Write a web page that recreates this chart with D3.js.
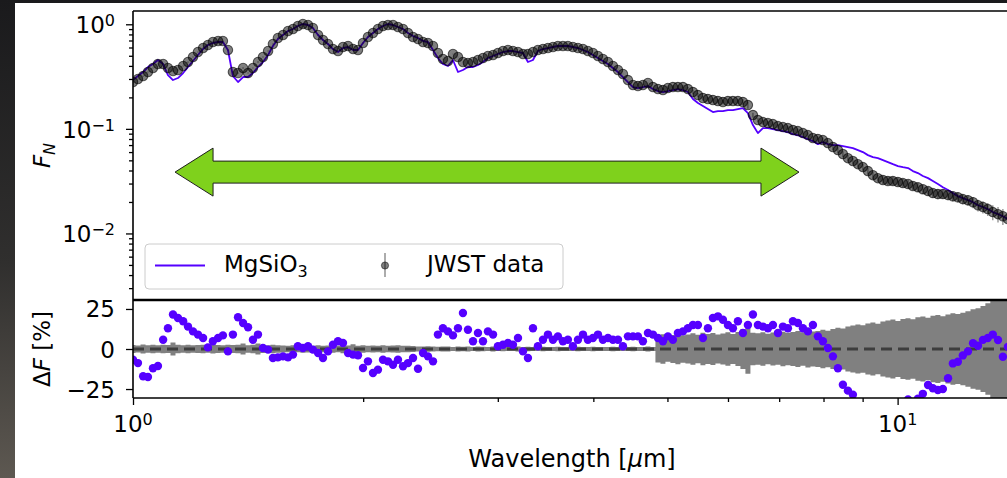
<!DOCTYPE html>
<html><head><meta charset="utf-8">
<script src="https://cdn.jsdelivr.net/npm/d3@7"></script>
<style>body{margin:0;background:#fff;} svg{display:block;} text{font-family:"DejaVu Sans",sans-serif;fill:#000;}</style>
</head><body><svg id="c" width="1007" height="478"></svg>
<script>
// ---------------- data ----------------
const wavelength = [1.000,1.015,1.031,1.046,1.062,1.078,1.095,1.111,1.128,1.145,
1.163,1.180,1.198,1.216,1.235,1.253,1.272,1.292,1.311,1.331,
1.351,1.372,1.393,1.414,1.435,1.457,1.479,1.502,1.524,1.547,
1.571,1.595,1.619,1.643,1.668,1.694,1.719,1.746,1.772,1.799,
1.826,1.854,1.882,1.911,1.940,1.969,1.999,2.029,2.060,2.091,
2.123,2.155,2.188,2.221,2.255,2.289,2.324,2.359,2.395,2.431,
2.468,2.505,2.543,2.582,2.621,2.661,2.701,2.742,2.784,2.826,
2.869,2.912,2.957,3.001,3.047,3.093,3.140,3.188,3.236,3.285,
3.335,3.385,3.437,3.489,3.542,3.595,3.650,3.705,3.761,3.819,
3.877,3.935,3.995,4.056,4.117,4.180,4.243,4.308,4.373,4.439,
4.507,4.575,4.644,4.715,4.786,4.859,4.933,5.007,5.083,5.160,
5.239,5.318,5.399,5.481,5.564,5.648,5.734,5.821,5.909,5.999,
6.090,6.182,6.276,6.371,6.468,6.566,6.666,6.767,6.870,6.974,
7.080,7.187,7.296,7.406,7.519,7.633,7.749,7.866,7.985,8.106,
8.230,8.354,8.481,8.610,8.740,8.873,9.007,9.144,9.283,9.423,
9.567,9.712,9.859,10.01,10.16,10.32,10.47,10.63,10.79,10.96,
11.12,11.29,11.46,11.64,11.81,11.99,12.17,12.36,12.55,12.74,
12.93,13.12,13.32,13.53,13.73,13.94];

const fluxData = [0.2805,0.2997,0.3201,0.3496,0.3818,0.4170,0.4170,0.3818,0.3574,0.3654,
0.3990,0.4358,0.4865,0.5432,0.5932,0.6338,0.6771,0.6922,0.6922,0.5677,
0.3496,0.3420,0.3818,0.3420,0.3818,0.4358,0.4865,0.5553,0.6479,0.7395,
0.7900,0.8628,0.9016,0.9633,1.0066,0.9847,0.9217,0.7900,0.7076,0.6479,
0.5803,0.5553,0.6065,0.6200,0.5803,0.5677,0.6623,0.7559,0.8256,0.9016,
0.9633,0.9847,0.9847,0.9423,0.9016,0.8256,0.7559,0.7234,0.6771,0.6623,
0.6200,0.5314,0.4655,0.4455,0.5198,0.4865,0.4358,0.4263,0.4358,0.4554,
0.4759,0.4973,0.5085,0.5314,0.5553,0.5677,0.5553,0.5432,0.5198,0.5198,
0.5432,0.5677,0.5803,0.5932,0.6065,0.6200,0.6200,0.6200,0.6065,0.5932,
0.5803,0.5553,0.5314,0.4973,0.4655,0.4358,0.3990,0.3654,0.3346,0.2931,
0.2626,0.2568,0.2626,0.2744,0.2512,0.2404,0.2352,0.2458,0.2512,0.2512,
0.2512,0.2404,0.2250,0.2106,0.1971,0.1928,0.1886,0.1845,0.1805,0.1845,
0.1845,0.1845,0.1805,0.1689,0.1355,0.1214,0.1161,0.1136,0.1111,0.1063,
0.1040,0.1017,0.0974,0.0952,0.0911,0.0872,0.0816,0.0799,0.0781,0.0731,
0.0670,0.0627,0.0574,0.0525,0.0492,0.0460,0.0431,0.0395,0.0361,0.0338,
0.0324,0.0317,0.0317,0.0310,0.0303,0.0297,0.0284,0.0277,0.0265,0.0254,
0.0243,0.0238,0.0238,0.0233,0.0227,0.0222,0.0213,0.0208,0.0199,0.0186,
0.0179,0.0171,0.0160,0.0153,0.0146,0.0137];

const fluxModel = [0.2931,0.3201,0.3496,0.3903,0.4170,0.4554,0.4170,0.3273,0.2931,0.3063,
0.3420,0.3903,0.4455,0.5085,0.5803,0.6338,0.6623,0.6771,0.6771,0.5677,
0.3201,0.2805,0.3132,0.3132,0.3420,0.3903,0.4358,0.5085,0.6200,0.7234,
0.7900,0.8628,0.9016,0.9633,1.0066,0.9847,0.9217,0.7900,0.7076,0.6479,
0.5803,0.5432,0.5932,0.6065,0.5677,0.5677,0.6623,0.7559,0.8256,0.9016,
0.9633,1.0066,0.9847,0.9423,0.9016,0.8256,0.7728,0.7395,0.6922,0.6771,
0.5677,0.4759,0.4170,0.3990,0.4554,0.3496,0.3654,0.3903,0.3903,0.4079,
0.4358,0.4759,0.4973,0.5198,0.5432,0.5553,0.5553,0.5432,0.5314,0.4358,
0.4554,0.5553,0.5803,0.5932,0.6065,0.6200,0.6200,0.6200,0.6065,0.5932,
0.5677,0.5432,0.5085,0.4759,0.4455,0.4170,0.3818,0.3496,0.3132,0.2805,
0.2512,0.2458,0.2512,0.2568,0.2404,0.2300,0.2250,0.2300,0.2352,0.2404,
0.2352,0.2250,0.1928,0.1766,0.1652,0.1547,0.1448,0.1480,0.1480,0.1513,
0.1513,0.1547,0.1581,0.1416,0.1087,0.0911,0.1017,0.1017,0.0995,0.0974,
0.0952,0.0932,0.0891,0.0872,0.0835,0.0799,0.0764,0.0715,0.0747,0.0715,
0.0700,0.0700,0.0684,0.0670,0.0655,0.0627,0.0600,0.0561,0.0537,0.0525,
0.0503,0.0481,0.0460,0.0441,0.0431,0.0422,0.0395,0.0378,0.0354,0.0338,
0.0317,0.0297,0.0277,0.0260,0.0243,0.0227,0.0218,0.0208,0.0199,0.0186,
0.0179,0.0171,0.0160,0.0153,0.0146,0.0137];

const residualPct = [-6.7,-8.8,-17,-17.5,-12,-10.6,5.8,13,21.5,19.4,
17.3,14,11,9,6.9,1,4.8,6.9,8.5,-1.5,
9,19.8,16.2,13.6,5.8,9,0.6,-0.4,-5.6,-5.2,
-4.6,-5.2,-3.5,1.7,0.6,1.7,-0.4,-2.5,-5.6,-1.5,
2.7,4.8,3.8,-2.5,-3.5,-3.9,-11.9,-7.7,-15,-12.9,
-6.7,-7.7,-9.8,-6.7,-10.8,-8.8,-5.6,-12.3,-2.5,-4.6,
-7.7,9,13,11,8.5,13,22.5,12,4.8,10,
4.8,11,9,1.7,2.7,3.8,2.7,6.9,-1.5,-5.6,
13,1.7,5.8,9,5.8,7.9,4.8,5.8,1.7,5.8,
9,5.8,6.9,9,5.8,6.9,5.8,5.8,1.7,7.9,
7.9,7.9,4.8,10,9,6.9,4.8,7.9,5.8,10,
11,13,15,15,6.9,13,19.4,20.4,18.3,15,
13,17.3,10,15,21.5,15,14,13,15,10,
14,13,17.3,16.2,13,11,15,7.9,4.8,0.6,
-4.6,-12,-22.3,-26,-28.5,-40,-48,-55,-60,-62,
-60,-55,-50,-45,-38,-31.5,-33,-31,-28,-22.5,
-24.5,-25.6,-25,-18.3,-9,-8,-4,-1.5,3.6,2,
5.7,6.9,9,5.6,-4.8,1.4];

// relative uncertainty of the data, in percent (band in lower panel = 2 sigma)
const errorPct = [2.5,2.2,2.8,2.4,2.6,2.3,2.7,2.5,4.0,2.6,
2.4,2.7,2.3,2.5,2.6,2.4,2.8,2.5,2.3,2.6,
2.5,2.7,3.5,2.4,2.6,3.5,2.5,2.3,2.6,2.4,
2.2,2.0,2.3,2.1,2.4,2.2,2.0,2.3,2.1,2.2,
2.4,2.0,2.6,2.2,3.0,2.1,2.3,2.0,2.2,2.1,
2.3,2.0,2.2,2.4,2.1,2.0,1.8,1.6,1.5,1.7,
1.5,1.4,1.6,1.5,1.3,1.5,1.4,1.6,1.3,1.5,
1.4,1.2,1.5,1.3,1.4,1.2,1.3,1.5,1.2,1.4,
1.3,1.2,1.4,1.3,1.2,1.4,1.3,1.2,1.3,1.4,
1.2,1.3,1.4,1.2,1.3,1.2,1.4,1.3,1.2,1.3,
1.4,1.2,1.3,1.5,1.2,8.5,9.2,8.0,8.8,9.5,
8.6,9.0,9.8,8.9,10.2,9.4,10.0,9.1,9.7,10.4,
9.3,10.6,12.5,15.5,10.2,9.8,10.5,9.6,10.3,9.9,
10.8,10.1,10.6,11.2,10.4,11.5,10.9,11.3,12.0,11.4,
12.5,13.2,12.8,14.0,14.6,15.3,14.8,16.0,16.5,15.8,
17.2,17.8,18.4,17.5,18.8,19.2,18.6,19.8,20.3,19.5,
20.8,21.2,20.5,21.6,22.3,21.8,22.6,23.5,24.8,25.5,
26.8,28.5,33,34,35,35];

const xTickValues = [1, 10];
const fluxTickValues = [1, 0.1, 0.01];
const residTickValues = [25, 0, -25];
const seriesNames = ["MgSiO", "JWST data"];
const arrowSpan = [1.135, 7.43];   // wavelength extent of green double arrow
const arrowLevel = 0.0386;         // flux level of arrow axis

// ---------------- layout ----------------
const W = 1007, H = 478;
const L = 133, R = 1011, T1 = 11, B1 = 300, T2 = 300, B2 = 398;
const PURPLE = "#5500ff";
const FS = 23;

const svg = d3.select("#c");
const defs = svg.append("defs");
const grad = defs.append("linearGradient").attr("id","bg").attr("x1",0).attr("y1",0).attr("x2",0).attr("y2",1);
grad.append("stop").attr("offset","0%").attr("stop-color","#1a1a1c");
grad.append("stop").attr("offset","55%").attr("stop-color","#302f2e");
grad.append("stop").attr("offset","100%").attr("stop-color","#5d5851");
svg.append("rect").attr("width",W).attr("height",H).attr("fill","url(#bg)");
svg.append("rect").attr("x",15).attr("y",3).attr("width",W-15).attr("height",H-3).attr("fill","#fff");

defs.append("clipPath").attr("id","clipTop").append("rect").attr("x",L).attr("y",T1).attr("width",R-L).attr("height",B1-T1);
defs.append("clipPath").attr("id","clipBot").append("rect").attr("x",L).attr("y",T2).attr("width",R-L).attr("height",B2-T2);

const x = d3.scaleLog().domain([1, 14.07]).range([L, R]);
const yTop = d3.scaleLog().domain([0.00231, 1.34]).range([B1, T1]);
const yBot = d3.scaleLinear().domain([-30.6, 30.6]).range([B2, T2]);

const pts = wavelength.map((w,i)=>({w, f:fluxData[i], m:fluxModel[i], r:residualPct[i], e:errorPct[i]}));

// ---------------- top panel ----------------
const gTop = svg.append("g").attr("clip-path","url(#clipTop)");
gTop.append("path").datum(pts)
  .attr("d", d3.line().x(d=>x(d.w)).y(d=>yTop(d.m)))
  .attr("fill","none").attr("stroke",PURPLE).attr("stroke-width",1.8).attr("stroke-linejoin","round");

// green double arrow (annotation)
(function(){
  const xa = x(arrowSpan[0]), xb = x(arrowSpan[1]), yc = yTop(arrowLevel);
  const hl = 38, hh = 24, sh = 11;
  const p = d3.path();
  p.moveTo(xa, yc); p.lineTo(xa+hl, yc-hh); p.lineTo(xa+hl, yc-sh);
  p.lineTo(xb-hl, yc-sh); p.lineTo(xb-hl, yc-hh); p.lineTo(xb, yc);
  p.lineTo(xb-hl, yc+hh); p.lineTo(xb-hl, yc+sh); p.lineTo(xa+hl, yc+sh);
  p.lineTo(xa+hl, yc+hh); p.closePath();
  svg.append("path").attr("d", p.toString()).attr("fill","#7fd11c").attr("stroke","#1e1e1e").attr("stroke-width",1);
})();

// 1-sigma error bars (half of the 2-sigma band)
gTop.selectAll("line.eb").data(pts).join("line").attr("class","eb")
  .attr("x1",d=>x(d.w)).attr("x2",d=>x(d.w))
  .attr("y1",d=>yTop(d.f*(1+d.e/200))).attr("y2",d=>yTop(d.f*(1-d.e/200)))
  .attr("stroke","#000").attr("stroke-opacity",0.45).attr("stroke-width",1.3);
gTop.selectAll("circle.dp").data(pts).join("circle").attr("class","dp")
  .attr("cx",d=>x(d.w)).attr("cy",d=>yTop(d.f)).attr("r",4.7)
  .attr("fill","#000").attr("fill-opacity",0.5)
  .attr("stroke","#000").attr("stroke-opacity",0.6).attr("stroke-width",1.1);

// ---------------- bottom panel ----------------
const gBot = svg.append("g").attr("clip-path","url(#clipBot)");
gBot.append("path").datum(pts)
  .attr("d", d3.area().curve(d3.curveStep).x(d=>x(d.w)).y0(d=>yBot(-d.e)).y1(d=>yBot(d.e)))
  .attr("fill","#808080");
gBot.append("line").attr("x1",L).attr("x2",R).attr("y1",yBot(0)).attr("y2",yBot(0))
  .attr("stroke","#3d3d3d").attr("stroke-width",3.2).attr("stroke-dasharray","11,6");
gBot.selectAll("circle.rp").data(pts).join("circle").attr("class","rp")
  .attr("cx",d=>x(d.w)).attr("cy",d=>yBot(d.r)).attr("r",4.2).attr("fill",PURPLE);

// ---------------- axes ----------------
function styleAxis(g){ g.select(".domain").remove(); g.selectAll(".tick line").attr("stroke","#000").attr("stroke-width",1.3); g.selectAll(".tick text").remove(); }
const minorFlux = [];
for (let e=-3;e<=0;e++) for (let m=2;m<=9;m++){ const v=m*Math.pow(10,e); if (v>0.00231 && v<1.34) minorFlux.push(v); }
svg.append("g").attr("transform",`translate(${L},0)`).call(d3.axisLeft(yTop).tickValues(fluxTickValues).tickSize(7)).call(styleAxis);
svg.append("g").attr("transform",`translate(${L},0)`).call(d3.axisLeft(yTop).tickValues(minorFlux).tickSize(4)).call(styleAxis);
svg.append("g").attr("transform",`translate(${L},0)`).call(d3.axisLeft(yBot).tickValues(residTickValues).tickSize(7)).call(styleAxis);
const minorX = [2,3,4,5,6,7,8,9];
svg.append("g").attr("transform",`translate(0,${B2})`).call(d3.axisBottom(x).tickValues(xTickValues).tickSize(7)).call(styleAxis);
svg.append("g").attr("transform",`translate(0,${B2})`).call(d3.axisBottom(x).tickValues(minorX).tickSize(4)).call(styleAxis);

// spines
const sp = svg.append("g").attr("stroke","#000").attr("stroke-width",1.6).attr("fill","none");
sp.append("line").attr("x1",L).attr("x2",L).attr("y1",T1).attr("y2",B2);
sp.append("line").attr("x1",L).attr("x2",R).attr("y1",T1).attr("y2",T1);
sp.append("line").attr("x1",L).attr("x2",R).attr("y1",B1).attr("y2",B1).attr("stroke-width",2.4);
sp.append("line").attr("x1",L).attr("x2",R).attr("y1",B2).attr("y2",B2);

// tick labels
function expStr(v){ const e=Math.round(Math.log10(v)); return (e<0?"\u2212":"")+Math.abs(e); }
function powLabel(xx, yy, anchor, v){
  const t = svg.append("text").attr("x",xx).attr("y",yy).attr("text-anchor",anchor).attr("font-size",FS);
  t.append("tspan").text("10");
  t.append("tspan").attr("font-size",16).attr("dy",-7).text(expStr(v));
}
fluxTickValues.forEach(v=>powLabel(L-18, yTop(v)+9, "end", v));
xTickValues.forEach(v=>powLabel(x(v), B2+34, "middle", v));
residTickValues.forEach(v=>{
  svg.append("text").attr("x",L-18).attr("y",yBot(v)+8.5).attr("text-anchor","end").attr("font-size",FS)
    .text(v<0?"\u2212"+Math.abs(v):String(v));
});

// axis labels
const xl = svg.append("text").attr("x",(L+R)/2).attr("y",467).attr("text-anchor","middle").attr("font-size",24);
xl.append("tspan").text("Wavelength [");
xl.append("tspan").attr("font-style","italic").text("\u03bc");
xl.append("tspan").text("m]");

const yl1 = svg.append("text").attr("transform",`translate(50,${(T1+B1)/2}) rotate(-90)`).attr("text-anchor","middle").attr("font-size",FS);
yl1.append("tspan").attr("font-style","italic").text("F");
yl1.append("tspan").attr("font-style","italic").attr("font-size",16).attr("dy",5).text("N");

const yl2 = svg.append("text").attr("transform",`translate(50,${(T2+B2)/2}) rotate(-90)`).attr("text-anchor","middle").attr("font-size",FS);
yl2.append("tspan").text("\u0394");
yl2.append("tspan").attr("font-style","italic").text("F");
yl2.append("tspan").text(" [%]");

// legend
const lg = svg.append("g");
lg.append("rect").attr("x",145).attr("y",244).attr("width",418).attr("height",45).attr("rx",4)
  .attr("fill","#fff").attr("fill-opacity",0.8).attr("stroke","#cccccc").attr("stroke-width",1);
lg.append("line").attr("x1",155).attr("x2",205).attr("y1",265.5).attr("y2",265.5).attr("stroke",PURPLE).attr("stroke-width",1.8);
const t1 = lg.append("text").attr("x",224).attr("y",272).attr("font-size",FS);
t1.append("tspan").text(seriesNames[0]);
t1.append("tspan").attr("font-size",16).attr("dy",5).text("3");
lg.append("line").attr("x1",385).attr("x2",385).attr("y1",253).attr("y2",277).attr("stroke","#000").attr("stroke-opacity",0.5).attr("stroke-width",1.3);
lg.append("circle").attr("cx",385).attr("cy",265.5).attr("r",3.6).attr("fill","#000").attr("fill-opacity",0.5).attr("stroke","#000").attr("stroke-opacity",0.5);
lg.append("text").attr("x",427).attr("y",272).attr("font-size",FS).text(seriesNames[1]);
</script>
</body></html>
